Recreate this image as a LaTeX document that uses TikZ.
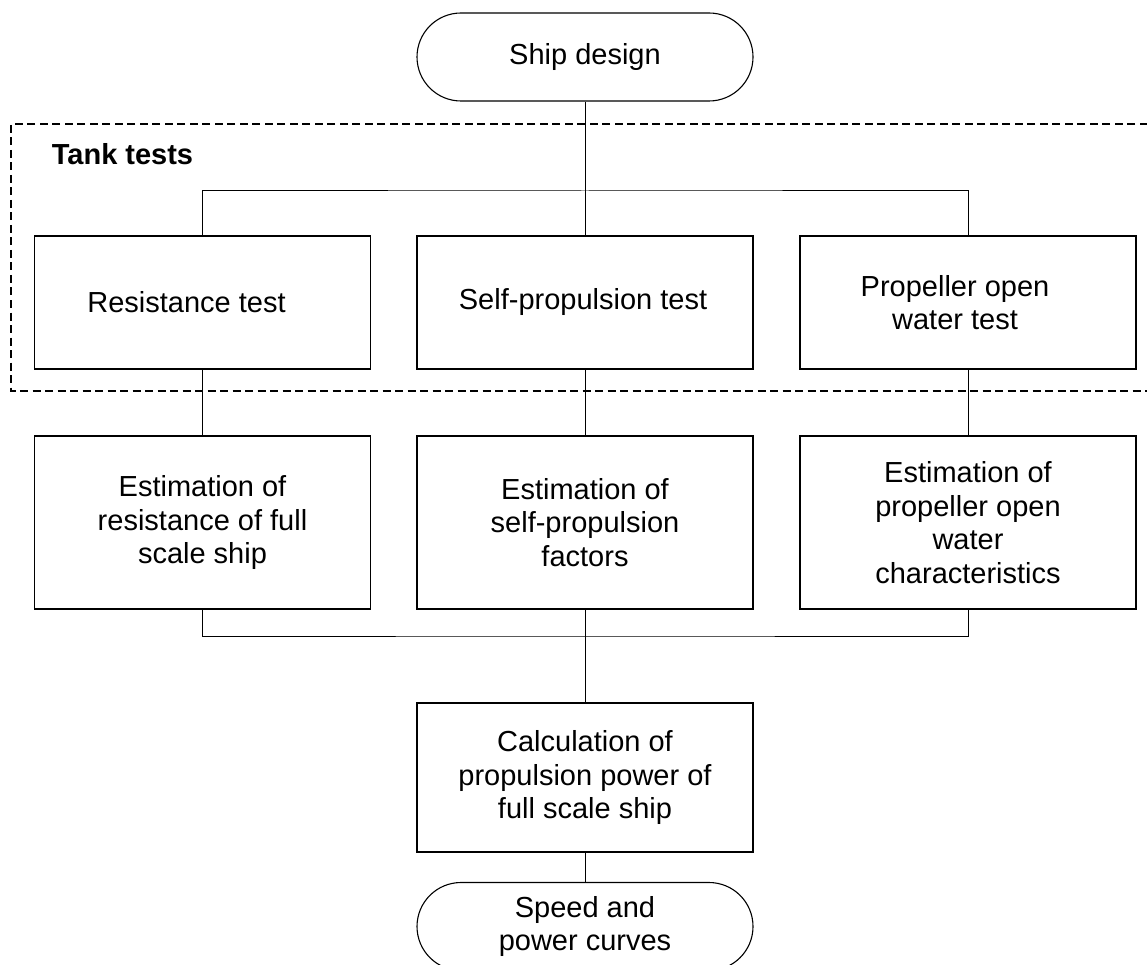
\documentclass[tikz,border=0pt]{standalone}
\usepackage{fontspec}
\setmainfont{Liberation Sans}
\usepackage{tikz}
\usetikzlibrary{positioning,calc}

\begin{document}
\begin{tikzpicture}[x=1pt, y=-1pt, line width=1pt,
  font=\fontsize{29}{33.5}\selectfont,
  procbox/.style={draw, line width=1.1pt, minimum width=336pt, inner sep=0pt, align=center},
  termbox/.style={draw, line width=1.1pt, rounded corners=44pt, minimum width=336pt, minimum height=88pt, inner sep=0pt, align=center},
  group/.style={draw, line width=2.5pt, dash pattern=on 8pt off 4.5pt}]
\useasboundingbox (0,0) rectangle (1147,965);

% tank test frame
\draw[group] (1160,124) -- (11,124) -- (11,391) -- (1160,391);
\node[anchor=west, font=\fontsize{29}{33.5}\selectfont\bfseries] (tank) at (48,154) {Tank tests};

% start and end
\node[termbox] (design) at (585,57) {Ship design};
\node[termbox] (curves) at (585,926.5) {Speed and\\power curves};

% tests
\node[procbox, minimum height=133pt, label={[xshift=-16pt]center:Resistance test}] (res) at (202.5,302.5) {};
\node[procbox, minimum height=133pt, label={[xshift=-2pt]center:Self-propulsion test}] (spt) at (585,302.5) {};
\node[procbox, minimum height=133pt, label={[xshift=-13pt,align=center]center:Propeller open\\water test}] (pow) at (968,302.5) {};

% estimations
\node[procbox, minimum height=173pt] (estres) at (202.5,522.5) {Estimation of\\resistance of full\\scale ship};
\node[procbox, minimum height=173pt] (estsp) at (585,522.5) {Estimation of\\self-propulsion\\factors};
\node[procbox, minimum height=173pt] (estpow) at (968,522.5) {Estimation of\\propeller open\\water\\characteristics};

\node[procbox, minimum height=149pt] (calc) at (585,777.5) {Calculation of\\propulsion power of\\full scale ship};

\coordinate (split) at (585,191);
\coordinate (join) at (585,636);

\draw (design) -- (spt);
\draw (res) |- (split) -| (pow);
\draw (res) -- (estres);
\draw (spt) -- (estsp);
\draw (pow) -- (estpow);
\draw (estres) |- (join) -| (estpow);
\draw (estsp) -- (calc);
\draw (calc) -- (curves);
\end{tikzpicture}
\end{document}
